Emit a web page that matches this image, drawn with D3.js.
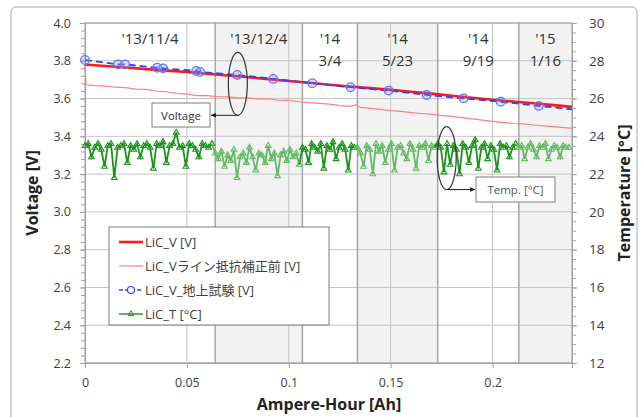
<!DOCTYPE html>
<html>
<head>
<meta charset="utf-8">
<script src="https://cdn.jsdelivr.net/npm/d3@7"></script>
<style>
  body { margin: 0; background: #fff; }
  text { font-family: "Open Sans", "Noto Sans CJK JP", sans-serif; }
</style>
</head>
<body>
<div id="chart"></div>
<script>
// x axis ticks (Ah) and axis ranges
var ahTicks = [0, 0.05, 0.1, 0.15, 0.2];
var voltTicks = [2.2, 2.4, 2.6, 2.8, 3.0, 3.2, 3.4, 3.6, 3.8, 4.0];
var tempTicks = [12, 14, 16, 18, 20, 22, 24, 26, 28, 30];

// date periods (Ah boundaries) and their labels
var periodEdges = [0, 0.0639, 0.1067, 0.1337, 0.1731, 0.2129, 0.239];
var periodLabels = [["'13/11/4"], ["'13/12/4"], ["'14", "3/4"], ["'14", "5/23"], ["'14", "9/19"], ["'15", "1/16"]];
var shadedPeriods = [1, 3, 5];

// LiC_V [V]
var redAh = [0, 0.01, 0.02, 0.03, 0.04, 0.05, 0.06, 0.07, 0.08, 0.09, 0.10, 0.11, 0.12, 0.13, 0.14, 0.15, 0.16, 0.17, 0.18, 0.19, 0.20, 0.21, 0.22, 0.23, 0.239];
var redV = [3.780, 3.772, 3.764, 3.756, 3.748, 3.741, 3.731, 3.722, 3.713, 3.703, 3.693, 3.684, 3.673, 3.664, 3.655, 3.647, 3.636, 3.626, 3.615, 3.604, 3.594, 3.584, 3.575, 3.565, 3.556];

// LiC_V line, before resistance correction [V]
var pinkAh = [0, 0.0005, 0.005, 0.01, 0.015, 0.02, 0.025, 0.03, 0.035, 0.04, 0.045, 0.05, 0.055, 0.06, 0.065, 0.07, 0.075, 0.08, 0.085, 0.09, 0.095, 0.10, 0.105, 0.11, 0.115, 0.12, 0.125, 0.13, 0.133, 0.135, 0.14, 0.145, 0.15, 0.155, 0.16, 0.165, 0.17, 0.175, 0.18, 0.185, 0.19, 0.195, 0.20, 0.205, 0.21, 0.215, 0.22, 0.225, 0.23, 0.235, 0.239];
var pinkV = [3.780, 3.673, 3.668, 3.666, 3.660, 3.658, 3.650, 3.649, 3.640, 3.636, 3.627, 3.623, 3.616, 3.615, 3.610, 3.609, 3.604, 3.604, 3.598, 3.599, 3.591, 3.590, 3.583, 3.578, 3.575, 3.571, 3.563, 3.559, 3.566, 3.553, 3.548, 3.543, 3.536, 3.532, 3.526, 3.521, 3.516, 3.511, 3.506, 3.499, 3.492, 3.486, 3.479, 3.474, 3.468, 3.466, 3.460, 3.455, 3.451, 3.446, 3.442];

// LiC_V ground test [V]
var blueAh = [0, 0.0162, 0.0197, 0.0354, 0.0383, 0.0546, 0.0565, 0.0747, 0.0924, 0.1116, 0.1303, 0.149, 0.1677, 0.1858, 0.204, 0.2227, 0.239];
var blueV = [3.804, 3.781, 3.781, 3.763, 3.760, 3.746, 3.741, 3.725, 3.704, 3.681, 3.660, 3.642, 3.619, 3.601, 3.583, 3.561, 3.543];

// LiC_T [degC], one list per period
var tempSeg1 = [23.5, 23.6, 22.9, 23.4, 23.6, 23.3, 22.4, 23.5, 23.6, 21.8, 23.4, 23.5, 23.6, 22.6, 23.5, 23.3, 23.6, 22.9, 23.5, 23.6, 23.4, 22.3, 23.6, 23.5, 23.7, 22.6, 23.5, 23.6, 24.2, 23.4, 23.5, 22.4, 23.6, 23.5, 23.3, 22.9, 23.6, 23.5, 23.4, 23.6];
var tempSeg2 = [23.1, 22.8, 23.2, 22.4, 23.0, 22.7, 23.3, 21.8, 22.9, 23.1, 22.6, 23.4, 22.9, 22.2, 23.1, 23.0, 22.6, 23.5, 22.8, 23.1, 21.9, 23.0, 23.2, 22.7, 23.3, 22.9, 23.1, 22.5];
var tempSeg3 = [23.4, 23.3, 22.6, 23.6, 23.4, 23.2, 23.6, 22.3, 23.5, 23.3, 23.7, 22.8, 23.4, 23.6, 23.3, 22.2, 23.5, 23.4];
var tempSeg4 = [23.4, 23.1, 22.4, 23.5, 23.3, 22.0, 23.6, 23.2, 23.5, 22.6, 23.3, 23.6, 22.2, 23.4, 23.5, 23.1, 22.8, 23.6, 23.3, 22.3, 23.5, 23.4, 23.6, 22.7, 23.5, 23.4];
var tempSeg5 = [23.6, 23.4, 22.1, 23.6, 22.5, 23.5, 23.3, 22.0, 23.6, 23.4, 22.6, 23.5, 23.8, 22.3, 23.4, 23.6, 22.8, 23.5, 23.3, 22.2, 23.6, 23.4, 23.5, 22.9, 23.4, 23.6];
var tempSeg6 = [23.4, 23.5, 22.8, 23.4, 23.6, 23.3, 22.9, 23.5, 23.4, 23.6, 22.8, 23.3, 23.5, 23.4, 22.9, 23.5, 23.4, 23.4];
var tempSegs = [tempSeg1, tempSeg2, tempSeg3, tempSeg4, tempSeg5, tempSeg6];

var legendLabels = ["LiC_V [V]", "LiC_Vライン抵抗補正前 [V]", "LiC_V_地上試験 [V]", "LiC_T [°C]"];

// colours
var col = {
  red: "#ff1a1a", pink: "#ff7f7f", blue: "#2a45ff", blueMark: "#6476ff",
  greenDark: "#1a951a", greenLight: "#62bb62", grid: "#c4c4c4", edge: "#a0a0a0", text: "#404040"
};
var segColors = [col.greenDark, col.greenLight, col.greenDark, col.greenLight, col.greenDark, col.greenLight];

var W = 642, H = 417;
var svg = d3.select("#chart").append("svg").attr("width", W).attr("height", H);

var x = d3.scaleLinear().domain([0, 0.239]).range([85, 572]);
var yV = d3.scaleLinear().domain([2.2, 4.0]).range([363, 23]);
var yT = d3.scaleLinear().domain([12, 30]).range([363, 23]);

// outer chart frame
svg.append("rect").attr("x", 11).attr("y", 7).attr("width", 626).attr("height", 420)
  .attr("rx", 5).attr("fill", "#fff").attr("stroke", "#a8a8a8");

// shaded periods
shadedPeriods.forEach(function(i) {
  svg.append("rect")
    .attr("x", x(periodEdges[i])).attr("y", yV(4.0))
    .attr("width", x(periodEdges[i + 1]) - x(periodEdges[i]))
    .attr("height", yV(2.2) - yV(4.0))
    .attr("fill", "#f2f2f2");
});

// grid lines
svg.append("g").selectAll("line").data(voltTicks).join("line")
  .attr("x1", x(0)).attr("x2", x(0.239)).attr("y1", d => yV(d)).attr("y2", d => yV(d))
  .attr("stroke", col.grid);
svg.append("g").selectAll("line").data(ahTicks.slice(1)).join("line")
  .attr("x1", d => x(d)).attr("x2", d => x(d)).attr("y1", yV(2.2)).attr("y2", yV(4.0))
  .attr("stroke", col.grid);
// period boundaries
svg.append("g").selectAll("line").data(periodEdges.slice(1, -1)).join("line")
  .attr("x1", d => x(d)).attr("x2", d => x(d)).attr("y1", yV(2.2)).attr("y2", yV(4.0))
  .attr("stroke", "#a6a6a6").attr("stroke-width", 1.5);
svg.append("rect").attr("x", x(0)).attr("y", yV(4.0)).attr("width", x(0.239) - x(0))
  .attr("height", yV(2.2) - yV(4.0)).attr("fill", "none").attr("stroke", col.edge);

// period labels
periodLabels.forEach(function(lab, i) {
  var cx = (x(periodEdges[i]) + x(periodEdges[i + 1])) / 2;
  lab.forEach(function(t, j) {
    svg.append("text").attr("x", cx).attr("y", 44 + j * 22)
      .attr("text-anchor", "middle").attr("font-size", 15).attr("fill", "#333").text(t);
  });
});

// axes
function styleAxis(g) {
  g.selectAll("path").attr("stroke", col.edge);
  g.selectAll("line").attr("stroke", col.edge);
  g.selectAll("text").attr("fill", col.text).attr("font-size", 12.5)
    .style("font-family", "'Open Sans', sans-serif");
}
var minorV = d3.range(2.2, 4.0001, 0.04);
var minorT = d3.range(12, 30.001, 0.5);
svg.append("g").attr("transform", "translate(" + x(0) + ",0)")
  .call(d3.axisLeft(yV).tickValues(minorV).tickSize(4).tickFormat(""))
  .call(styleAxis);
svg.append("g").attr("transform", "translate(" + x(0) + ",0)")
  .call(d3.axisLeft(yV).tickValues(voltTicks).tickSize(5).tickPadding(9).tickFormat(d3.format(".1f")))
  .call(styleAxis);
svg.append("g").attr("transform", "translate(" + x(0.239) + ",0)")
  .call(d3.axisRight(yT).tickValues(minorT).tickSize(4).tickFormat(""))
  .call(styleAxis);
svg.append("g").attr("transform", "translate(" + x(0.239) + ",0)")
  .call(d3.axisRight(yT).tickValues(tempTicks).tickSize(5).tickPadding(12).tickFormat(d3.format("d")))
  .call(styleAxis)
  .call(g => g.selectAll("text").attr("font-size", 13.5));
svg.append("g").attr("transform", "translate(0," + yV(2.2) + ")")
  .call(d3.axisBottom(x).tickValues(ahTicks).tickSize(5).tickPadding(10).tickFormat(d => String(+d.toFixed(2))))
  .call(styleAxis);

// axis titles
svg.append("text").attr("transform", "translate(38,193) rotate(-90)")
  .attr("text-anchor", "middle").attr("font-size", 16).attr("font-weight", "bold").attr("fill", "#222")
  .text("Voltage [V]");
svg.append("text").attr("transform", "translate(630,193) rotate(-90)")
  .attr("text-anchor", "middle").attr("font-size", 16).attr("font-weight", "bold").attr("fill", "#222")
  .text("Temperature [°C]");
svg.append("text").attr("x", 329).attr("y", 410)
  .attr("text-anchor", "middle").attr("font-size", 16).attr("font-weight", "bold").attr("fill", "#222")
  .text("Ampere-Hour [Ah]");

// series
var lineV = d3.line().x(d => x(d[0])).y(d => yV(d[1]));
var lineT = d3.line().x(d => x(d[0])).y(d => yT(d[1]));

var pinkPts = pinkAh.map((a, i) => [a, pinkV[i]]);
svg.append("path").attr("d", lineV(pinkPts)).attr("fill", "none")
  .attr("stroke", col.pink).attr("stroke-width", 1.2);

// temperature, one path per period
var triangle = d3.symbol().type(d3.symbolTriangle).size(14);
var prevPt = null;
tempSegs.forEach(function(vals, s) {
  var a0 = periodEdges[s], a1 = periodEdges[s + 1];
  var pts = vals.map((v, i) => [a0 + (a1 - a0) * i / vals.length, v]);
  var path = prevPt ? [prevPt].concat(pts) : pts;
  prevPt = pts[pts.length - 1];
  var g = svg.append("g");
  g.append("path").attr("d", lineT(path)).attr("fill", "none")
    .attr("stroke", segColors[s]).attr("stroke-width", 1.8);
  g.selectAll("path.m").data(pts).join("path").attr("class", "m")
    .attr("d", triangle).attr("transform", d => "translate(" + x(d[0]) + "," + yT(d[1]) + ")")
    .attr("fill", "none").attr("stroke", segColors[s]).attr("stroke-width", 1.1);
});

var redPts = redAh.map((a, i) => [a, redV[i]]);
svg.append("path").attr("d", lineV(redPts)).attr("fill", "none")
  .attr("stroke", col.red).attr("stroke-width", 2.6);

var bluePts = blueAh.map((a, i) => [a, blueV[i]]);
svg.append("path").attr("d", lineV(bluePts)).attr("fill", "none")
  .attr("stroke", col.blue).attr("stroke-width", 1.8).attr("stroke-dasharray", "7,4");
svg.append("g").selectAll("circle").data(bluePts.slice(0, -1)).join("circle")
  .attr("cx", d => x(d[0])).attr("cy", d => yV(d[1])).attr("r", 4.3)
  .attr("fill", "rgba(110,130,255,0.25)").attr("stroke", col.blueMark).attr("stroke-width", 1.3);

// callouts
svg.append("defs").append("marker").attr("id", "arrow").attr("viewBox", "0 0 10 10")
  .attr("refX", 9).attr("refY", 5).attr("markerWidth", 6).attr("markerHeight", 6)
  .attr("orient", "auto").append("path").attr("d", "M0,1L10,5L0,9z").attr("fill", "#222");

function callout(cx, cy, dir, bx, bw) {
  var ell = svg.append("g");
  ell.append("ellipse").attr("cx", cx).attr("cy", cy).attr("rx", 9.5).attr("ry", 31.5)
    .attr("fill", "none").attr("stroke", "#333").attr("stroke-width", 1.2);
  var yb = cy + 31.5;
  ell.append("line").attr("x1", cx).attr("y1", yb)
    .attr("x2", dir < 0 ? bx + bw + 1 : bx - 1).attr("y2", yb)
    .attr("stroke", "#222").attr("stroke-width", 1).attr("marker-end", "url(#arrow)");
  return ell;
}
callout(x(0.075), yV(3.678), -1, 152, 58);
svg.append("rect").attr("x", 152).attr("y", 103).attr("width", 58).attr("height", 24)
  .attr("fill", "#fff").attr("stroke", "#7f7f7f");
svg.append("text").attr("x", 181).attr("y", 119.5).attr("text-anchor", "middle")
  .attr("font-size", 11.5).attr("fill", "#333").text("Voltage");
callout(x(0.1775), yT(22.85), 1, 476, 79);
svg.append("rect").attr("x", 476).attr("y", 177).attr("width", 79).attr("height", 25)
  .attr("fill", "#fff").attr("stroke", "#7f7f7f");
svg.append("text").attr("x", 515.5).attr("y", 194).attr("text-anchor", "middle")
  .attr("font-size", 11.5).attr("fill", "#555").text("Temp. [°C]");

// legend
var lg = svg.append("g").attr("transform", "translate(109,227)");
lg.append("rect").attr("width", 220).attr("height", 98).attr("fill", "#fff").attr("stroke", "#7f7f7f");
var lgStyles = [
  { c: col.red, w: 2.6, dash: null, mark: null },
  { c: col.pink, w: 1.2, dash: null, mark: null },
  { c: col.blue, w: 1.6, dash: "4,2", mark: "circle" },
  { c: col.greenDark, w: 1.4, dash: null, mark: "tri" }
];
legendLabels.forEach(function(t, i) {
  var s = lgStyles[i], yy = 15 + i * 24;
  lg.append("line").attr("x1", 10).attr("x2", 34).attr("y1", yy).attr("y2", yy)
    .attr("stroke", s.c).attr("stroke-width", s.w).attr("stroke-dasharray", s.dash);
  if (s.mark === "circle") {
    lg.append("circle").attr("cx", 22).attr("cy", yy).attr("r", 3.5)
      .attr("fill", "#fff").attr("stroke", s.c).attr("stroke-width", 1.2);
  } else if (s.mark === "tri") {
    lg.append("path").attr("d", triangle).attr("transform", "translate(22," + yy + ")")
      .attr("fill", "none").attr("stroke", s.c);
  }
  lg.append("text").attr("x", 36).attr("y", yy + 5).attr("font-size", 13).attr("fill", "#404040")
    .style("font-family", "'Open Sans', 'Noto Sans CJK JP', sans-serif").text(t);
});
</script>
</body>
</html>
